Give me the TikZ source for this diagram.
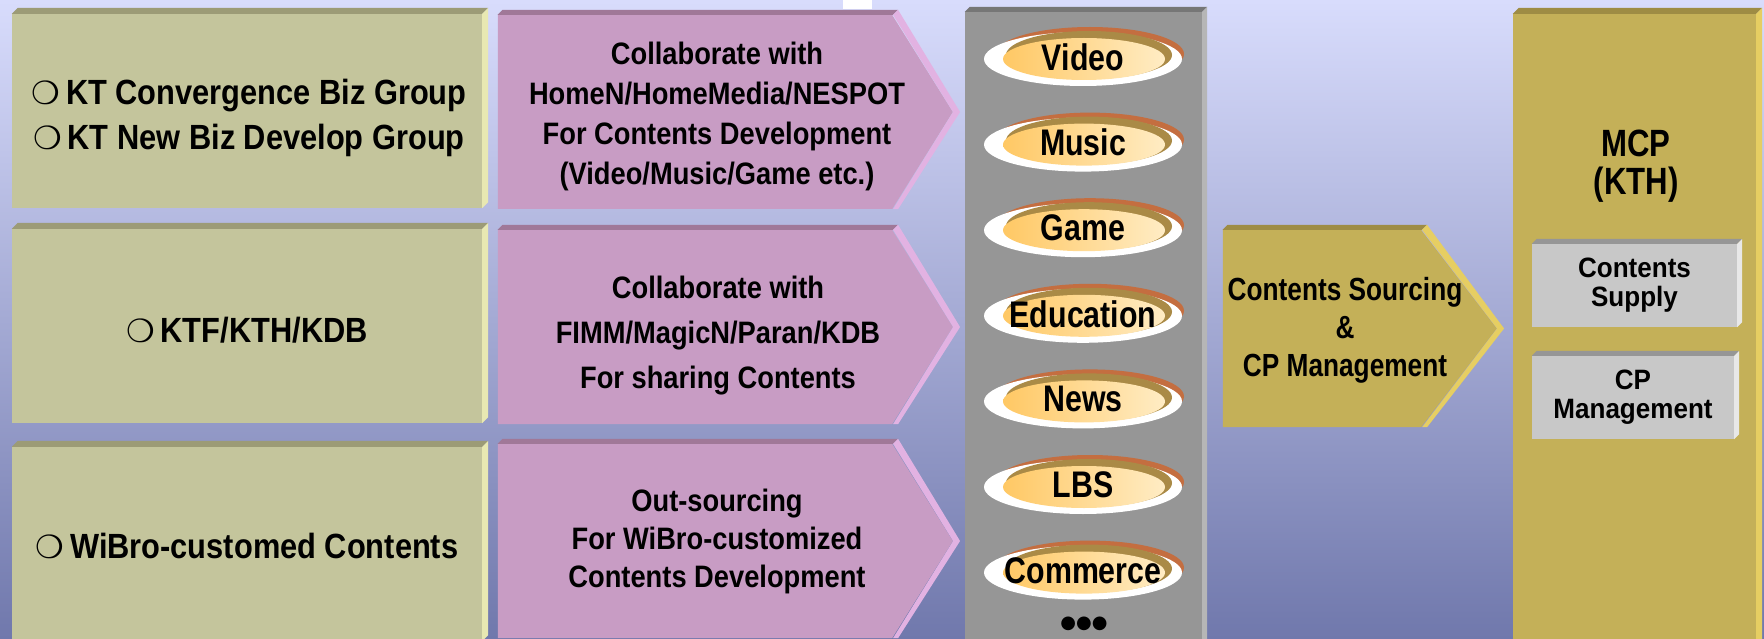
\documentclass[tikz,border=0pt]{standalone}
\usepackage{fontspec}
\setmainfont{Liberation Sans}
\newfontfamily\boxfont{Liberation Sans}[FakeStretch=0.88]
\newfontfamily\heavyfont{Liberation Sans}[FakeStretch=0.82]
\newfontfamily\tagfont{Liberation Sans}[FakeStretch=0.93]
\newfontfamily\symfont{DejaVu Sans}
\usetikzlibrary{shapes.geometric,shapes.symbols,calc}
\definecolor{bgTop}{RGB}{216,220,252}
\definecolor{bgMid}{RGB}{162,182,222}
\definecolor{bgBottom}{RGB}{112,120,172}
\definecolor{oliveFace}{RGB}{196,197,156}
\definecolor{oliveTop}{RGB}{156,155,118}
\definecolor{oliveSide}{RGB}{232,232,178}
\definecolor{pinkFace}{RGB}{200,156,196}
\definecolor{pinkTop}{RGB}{160,120,152}
\definecolor{pinkSide}{RGB}{226,178,226}
\definecolor{greyFace}{RGB}{150,150,150}
\definecolor{greyTop}{RGB}{118,118,118}
\definecolor{greySide}{RGB}{182,182,182}
\definecolor{goldFace}{RGB}{196,176,88}
\definecolor{goldTop}{RGB}{158,140,68}
\definecolor{goldSide}{RGB}{230,206,98}
\definecolor{silverFace}{RGB}{200,200,200}
\definecolor{silverTop}{RGB}{150,150,150}
\definecolor{silverSide}{RGB}{232,232,232}
\definecolor{pillRim}{RGB}{196,110,64}
\definecolor{pillBand}{RGB}{170,138,70}
\definecolor{pillDark}{RGB}{255,200,100}
\definecolor{pillLight}{RGB}{255,236,196}
\newcommand{\hollowDot}{{\symfont\fontsize{32}{45}\selectfont ❍}\,}

\begin{document}
\begin{tikzpicture}[x=1pt, y=-1pt]
            % Styles
            \tikzstyle{slab} = [rectangle, inner sep=0pt, align=center, text=black]
            \tikzstyle{source} = [slab, fill=oliveFace, minimum width=470pt, minimum height=194pt]
            \tikzstyle{sourceText} = [align=center, font=\boxfont\bfseries\fontsize{35}{45}\selectfont]
            \tikzstyle{route} = [signal, signal to=east, signal pointer angle=116, inner sep=0pt, fill=pinkFace, minimum width=455pt, minimum height=194pt]
            \tikzstyle{routeText} = [align=center, font=\boxfont\bfseries\fontsize{31}{40}\selectfont]
            \tikzstyle{pill} = [inner sep=0pt, font=\heavyfont\bfseries\fontsize{37}{37}\selectfont]
            \tikzstyle{tag} = [slab, fill=silverFace, minimum width=205pt, minimum height=83pt, font=\tagfont\bfseries\fontsize{28}{29}\selectfont]

            % Background
            \useasboundingbox (0,0) rectangle (1764,639);
            \clip (0,0) rectangle (1764,639);
            \shade[top color=bgTop, middle color=bgMid, bottom color=bgBottom] (0,0) rectangle (1764,639);
            \fill[white] (843,0) rectangle (872,9);

            % Sources
            \node[source] (kt) at (247,111) {};
            \node[source] (ktf) at (247,326) {};
            \node[source] (wibro) at (247,544) {};
            \node[sourceText] (ktText) at (249,117.5) {\hollowDot KT Convergence Biz Group\\\hollowDot KT New Biz Develop Group};
            \node[sourceText] (ktfText) at (247,330) {\hollowDot KTF/KTH/KDB};
            \node[sourceText] (wibroText) at (247,546) {\hollowDot WiBro-customed Contents};

            % Routes
            \node[route] (collab) at (695,112) {};
            \node[route] (share) at (695,327) {};
            \node[route] (outsrc) at (695,541) {};
            \node[routeText] (collabText) at (717,116) {Collaborate with\\HomeN/HomeMedia/NESPOT\\For Contents Development\\(Video/Music/Game etc.)};
            \node[routeText, font=\boxfont\bfseries\fontsize{31}{45}\selectfont] (shareText) at (718,336) {Collaborate with\\FIMM/MagicN/Paran/KDB\\For sharing Contents};
            \node[routeText, font=\boxfont\bfseries\fontsize{31}{38}\selectfont] (outsrcText) at (717,541) {Out-sourcing\\For WiBro-customized\\Contents Development};

            % Contents column
            \node[slab, fill=greyFace, minimum width=237pt, minimum height=640pt] (catalog) at (1083.5,332) {};
            \foreach \topic [count=\i] in {Video,Music,Game,Education,News,LBS,Commerce} {
                \pgfmathsetmacro{\py}{56+85.6*(\i-1)}
                \fill[pillRim] (1090,\py-2) ellipse [x radius=94pt, y radius=27pt];
                \fill[white] (1083,\py+3) ellipse [x radius=99pt, y radius=27pt];
                \fill[pillBand] (1089,\py-1) ellipse [x radius=83pt, y radius=24pt];
                \shade[left color=pillDark, right color=pillLight] (1084,\py+3) ellipse [x radius=81pt, y radius=21pt];
                \node[pill] (pill\i) at (1083,\py+1) {\topic};
            }
            \node[font=\symfont\fontsize{18}{18}\selectfont] (more) at (1084,624) {●●●};

            % Sourcing and MCP
            \node[signal, signal to=east, signal pointer angle=105, inner sep=0pt, fill=goldFace, minimum width=274pt, minimum height=197pt] (sourcing) at (1322,328.5) {};
            \node[align=center, font=\heavyfont\bfseries\fontsize{32}{38}\selectfont] (sourcingText) at (1345,330) {Contents Sourcing\\\&\\CP Management};
            \node[slab, fill=goldFace, minimum width=243pt, minimum height=640pt] (mcp) at (1634.5,334) {};
            \node[font=\heavyfont\bfseries\fontsize{38}{38}\selectfont, align=center] (mcpLabel) at (1636,166) {MCP\\(KTH)};
            \node[tag] (supply) at (1634.5,285.5) {Contents\\Supply};
            \node[tag, minimum width=202pt] (cpm) at (1633,397.5) {CP\\Management};

            % Bevels
            \foreach \n/\b/\t/\s in {kt/6/oliveTop/oliveSide, ktf/6/oliveTop/oliveSide, wibro/6/oliveTop/oliveSide, catalog/5/greyTop/greySide, mcp/6/goldTop/goldSide, supply/5/silverTop/silverSide, cpm/5/silverTop/silverSide} {
                \fill[\t] (\n.north west) -- ++(\b,-\b) -- ($(\n.north east)+(\b,-\b)$) -- (\n.north east) -- cycle;
                \fill[\s] (\n.north east) -- ++(\b,-\b) -- ($(\n.south east)+(\b,-\b)$) -- (\n.south east) -- cycle;
            }
            \foreach \n/\d/\t/\s in {collab/60/pinkTop/pinkSide, share/60/pinkTop/pinkSide, outsrc/60/pinkTop/pinkSide, sourcing/75/goldTop/goldSide} {
                \coordinate (tr) at (\n.east |- \n.north);
                \coordinate (br) at (\n.east |- \n.south);
                \coordinate (tl) at (\n.west |- \n.north);
                \coordinate (tc) at ($(tr)+(-\d,0)$);
                \coordinate (bc) at ($(br)+(-\d,0)$);
                \fill[\t] (tl) -- ++(5,-5) -- ($(tc)+(5,-5)$) -- (tc) -- cycle;
                \fill[\s] (tc) -- ++(5,-5) -- ($(\n.east)+(7,0)$) -- ($(bc)+(5,0)$) -- (bc) -- (\n.east) -- cycle;
            }
\end{tikzpicture}
\end{document}
